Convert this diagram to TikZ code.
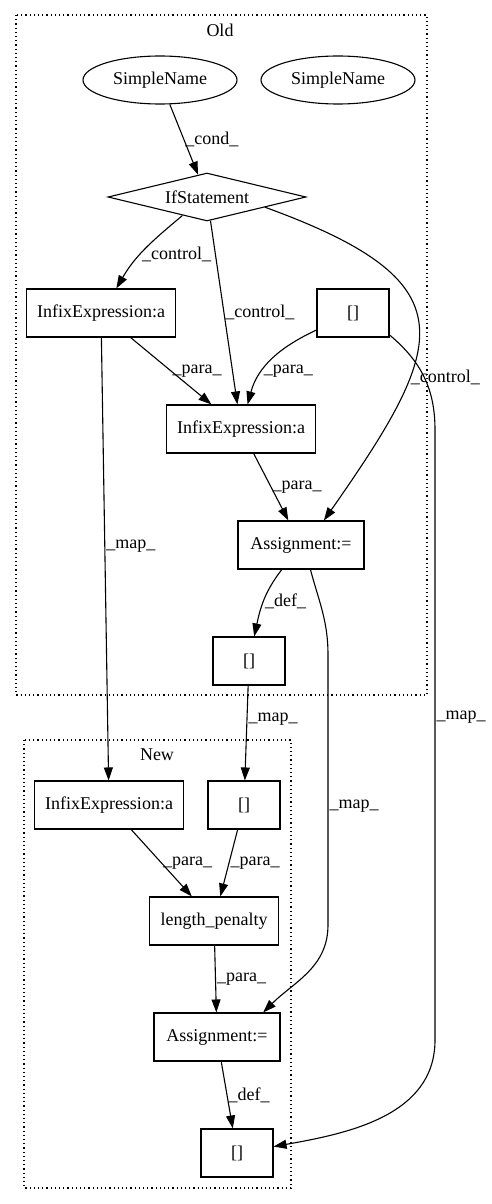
\documentclass[tikz,border=0pt]{standalone}
\usepackage{fontspec}
\setmainfont{Liberation Serif}
\usetikzlibrary{arrows.meta,shapes.geometric}

\begin{document}
\begin{tikzpicture}
[x=1pt,y=1pt,
  lineDecorate/.style={-{Triangle[length=13pt,width=9pt]},line width=1.1pt},%
  boxDecorate/.style={shape=rectangle,draw,line width=1.1pt,minimum height=48pt,inner sep=0pt,font=\fontsize{18}{21}\selectfont},%
  ellipseDecorate/.style={shape=ellipse,draw,line width=1.1pt,minimum width=154pt,minimum height=48pt,inner sep=0pt,font=\fontsize{18}{21}\selectfont},%
  diamondDecorate/.style={shape=diamond,draw,line width=1.1pt,aspect=4,minimum width=198pt,minimum height=48pt,inner sep=0pt,font=\fontsize{18}{21}\selectfont},%
  labelDecorate/.style={anchor=west,inner sep=1pt,font=\fontsize{18}{21}\selectfont},%
  clusterDecorate/.style={draw,line width=1.1pt,dash pattern=on 1.2pt off 3pt}]
\useasboundingbox (0,0) rectangle (492,-1204);
%% clusters
\draw[clusterDecorate] (16,-15) rectangle (427,-695);
\draw[clusterDecorate] (24,-740) rectangle (291,-1188);
\node[labelDecorate,anchor=center] (oldname) at (220,-30) {Old};
\node[labelDecorate,anchor=center] (newname) at (157,-755) {New};
%% nodes or vertices
\node (sname1) at (160,-80) [ellipseDecorate] {SimpleName};
\node (sname2) at (338,-80) [ellipseDecorate] {SimpleName};
\node (ifstmt) at (207,-197) [diamondDecorate] {IfStatement};
\foreach \nodename/\x/\y/\w/\txt in {
  infixA/101/-313/149/InfixExpression:a, arrA/353/-313/72/{[]},
  infixB/241/-429/149/InfixExpression:a, asgA/301/-545/126/Assignment:=,
  arrB/249/-661/72/{[]}, infixC/109/-805/149/InfixExpression:a,
  arrC/244/-805/72/{[]}, lenpen/214/-921/129/length\_penalty,
  asgB/217/-1037/126/Assignment:=, arrD/237/-1153/72/{[]}}
{
  \node (\nodename) at (\x,\y) [boxDecorate,minimum width=\w pt] {\txt};
}
\coordinate (bend1) at (435,-430);
\coordinate (bend2) at (435,-1040);
\coordinate (bend3) at (328,-655);
\coordinate (bend4) at (328,-925);
%% edges or lines
\path
\foreach \startnode/\endnode/\p/\lbl in {
  sname1/ifstmt/.5/\_cond\_, ifstmt/infixB/.5/\_control\_,
  infixA/infixB/.5/\_para\_, infixB/asgA/.5/\_para\_,
  infixA/infixC/.47/\_map\_, arrB/arrC/.35/\_map\_,
  infixC/lenpen/.5/\_para\_, arrC/lenpen/.5/\_para\_,
  lenpen/asgB/.5/\_para\_, asgB/arrD/.5/\_def\_}
{
  (\startnode) edge[lineDecorate] node[labelDecorate,pos=\p] {\lbl} (\endnode)
};
\path
  (ifstmt.-143) edge[lineDecorate,out=-140,in=60] node[labelDecorate,pos=.58] {\_control\_} (infixA.58)
  (ifstmt.-10) edge[lineDecorate,out=-20,in=55,looseness=1.75] node[labelDecorate,pos=.67] {\_control\_} (asgA.47)
  (arrA) edge[lineDecorate,out=-155,in=75] node[labelDecorate,pos=.66] {\_para\_} (infixB)
  (asgA) edge[lineDecorate,out=-128,in=78] node[labelDecorate,pos=.5] {\_def\_} (arrB);
\draw[lineDecorate] (arrA.-31) to[out=-40,in=90] (bend1) -- node[labelDecorate,pos=.47] {\_map\_} (bend2) to[out=-90,in=10] (arrD.10);
\draw[lineDecorate] (asgA.-69) to[out=-75,in=90] (bend3) -- node[labelDecorate,pos=.56] {\_map\_} (bend4) to[out=-90,in=45] (asgB.28);
\end{tikzpicture}
\end{document}
